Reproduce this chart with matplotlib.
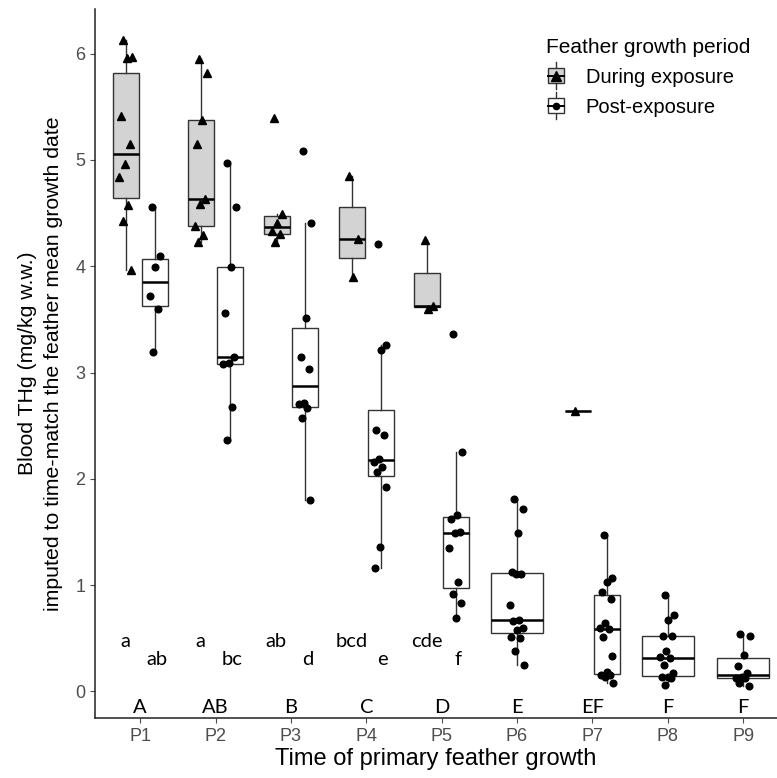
import numpy as np
import matplotlib
matplotlib.use("Agg")
import matplotlib.pyplot as plt
from matplotlib.legend_handler import HandlerBase
from matplotlib.patches import Rectangle
from matplotlib.lines import Line2D

plt.rcParams['font.family'] = ['Liberation Sans', 'DejaVu Sans']

# feathers P1..P9
feathers = ["P1", "P2", "P3", "P4", "P5", "P6", "P7", "P8", "P9"]

# blood THg (mg/kg w.w.), feather grown during exposure (None = no data)
during_vals = [
    [6.13, 5.97, 5.96, 5.41, 5.15, 4.96, 4.84, 4.58, 4.43, 3.96],
    [5.95, 5.82, 5.38, 5.15, 4.63, 4.59, 4.38, 4.29, 4.23],
    [5.39, 4.49, 4.41, 4.33, 4.30, 4.23],
    [4.85, 4.26, 3.90],
    [4.25, 3.63, 3.60],
    None,
    [2.64],
    None,
    None,
]

# feather grown post-exposure
post_vals = [
    [4.56, 4.10, 3.99, 3.72, 3.60, 3.19],
    [4.97, 4.56, 3.99, 3.56, 3.15, 3.09, 3.08, 2.68, 2.37],
    [5.08, 4.41, 3.51, 3.15, 3.03, 2.71, 2.70, 2.67, 2.57, 1.80],
    [4.21, 3.26, 3.21, 2.46, 2.41, 2.19, 2.16, 2.11, 2.06, 1.92, 1.36, 1.16],
    [3.36, 2.25, 1.66, 1.62, 1.50, 1.49, 1.35, 1.03, 0.92, 0.83, 0.69],
    [1.81, 1.72, 1.49, 1.12, 1.10, 1.10, 0.81, 0.67, 0.66, 0.60, 0.58, 0.51, 0.50, 0.38, 0.25],
    [1.47, 1.07, 1.03, 0.94, 0.87, 0.64, 0.60, 0.59, 0.51, 0.33, 0.18, 0.15, 0.15, 0.14, 0.08],
    [0.91, 0.72, 0.67, 0.52, 0.52, 0.38, 0.32, 0.31, 0.25, 0.17, 0.14, 0.14, 0.13, 0.06],
    [0.54, 0.52, 0.34, 0.24, 0.17, 0.14, 0.13, 0.13, 0.08, 0.05],
]

# significance letters
during_letters = ["a", "a", "ab", "bcd", "cde"]
post_letters = ["ab", "bc", "d", "e", "f"]
feather_letters = ["A", "AB", "B", "C", "D", "E", "EF", "F", "F"]

EDGE = "#333333"
GREY_FILL = "#D3D3D3"
TICK_COL = "#4D4D4D"
LETTER_FONT = ["Lato", "DejaVu Sans"]

fig = plt.figure(figsize=(7.77, 7.78), dpi=100)
ax = fig.add_axes([95 / 777, 60 / 778, 682 / 777, 709 / 778])


def jitter(n, width=0.09):
    # deterministic spread so the points don't stack
    k = np.arange(n)
    return ((k * 0.618034 + 0.31) % 1 - 0.5) * 2 * width


def draw_group(vals, pos, w, face, marker, msize):
    ax.boxplot([vals], positions=[pos], widths=w, patch_artist=True,
               showfliers=False, whis=1.5,
               boxprops=dict(facecolor=face, edgecolor=EDGE, linewidth=1.0),
               whiskerprops=dict(color=EDGE, linewidth=1.0),
               capprops=dict(linewidth=0),
               medianprops=dict(color="black", linewidth=1.8),
               zorder=2)
    xs = pos + jitter(len(vals), 0.09 if w < 0.5 else 0.1)
    ax.plot(xs, vals, linestyle="none", marker=marker, markersize=msize,
            color="black", zorder=3)


for i in range(len(feathers)):
    x = i + 1
    d = during_vals[i]
    p = post_vals[i]
    if d is not None:
        draw_group(d, x - 0.19, 0.345, GREY_FILL, "^", 5.4)
        draw_group(p, x + 0.19, 0.345, "white", "o", 4.8)
    else:
        draw_group(p, x, 0.69, "white", "o", 4.8)

# letters
for i, s in enumerate(during_letters):
    ax.text(i + 1 - 0.2, 0.47, s, ha="center", va="center", fontsize=14.5,
            family=LETTER_FONT)
for i, s in enumerate(post_letters):
    ax.text(i + 1 + 0.22, 0.30, s, ha="center", va="center", fontsize=14.5,
            family=LETTER_FONT)
for i, s in enumerate(feather_letters):
    ax.text(i + 1, -0.15, s, ha="center", va="center", fontsize=14.5,
            family=LETTER_FONT)

ax.set_xlim(0.4, 9.45)
ax.set_ylim(-0.25, 6.42)
ax.set_xticks(range(1, len(feathers) + 1))
ax.set_xticklabels(feathers)
ax.set_yticks(range(0, 7))
ax.tick_params(axis="both", colors=TICK_COL, labelsize=13, length=3.5, width=0.8)
for s in ["top", "right"]:
    ax.spines[s].set_visible(False)
for s in ["left", "bottom"]:
    ax.spines[s].set_color("#222222")
    ax.spines[s].set_linewidth(1.1)

ax.set_xlabel("Time of primary feather growth", fontsize=17, color="black", labelpad=2)
ax.set_ylabel("Blood THg (mg/kg w.w.)\nimputed to time-match the feather mean growth date",
              fontsize=15.3, color="black", linespacing=1.45, labelpad=9)


class BoxKey(HandlerBase):
    def __init__(self, face, marker, msize):
        super().__init__()
        self.face = face
        self.marker = marker
        self.msize = msize

    def create_artists(self, legend, orig_handle, xdescent, ydescent,
                       width, height, fontsize, trans):
        cx = -xdescent + width / 2
        y0 = -ydescent
        bw = width * 0.85
        bh = height * 0.8
        by = y0 + (height - bh) / 2
        wl = Line2D([cx, cx], [y0 - 3, y0 + height + 3], color=EDGE, lw=1.0, transform=trans)
        box = Rectangle((cx - bw / 2, by), bw, bh, facecolor=self.face,
                        edgecolor=EDGE, lw=1.0, transform=trans)
        med = Line2D([cx - bw / 2, cx + bw / 2], [y0 + height / 2] * 2,
                     color="black", lw=1.4, transform=trans)
        mk = Line2D([cx], [y0 + height / 2], marker=self.marker, markersize=self.msize,
                    color="black", linestyle="none", transform=trans)
        return [wl, box, med, mk]


h1 = Rectangle((0, 0), 1, 1)
h2 = Rectangle((0, 0), 1, 1)
leg = fig.legend([h1, h2], ["During exposure", "Post-exposure"],
                 handler_map={h1: BoxKey(GREY_FILL, "^", 7), h2: BoxKey("white", "o", 4.5)},
                 title="Feather growth period", loc="upper left",
                 bbox_to_anchor=(0.68, 0.975), frameon=False, fontsize=14.5,
                 title_fontsize=15, handlelength=0.95, handleheight=1.0,
                 handletextpad=1.0, labelspacing=0.5, alignment="left")

fig.savefig("out.png", dpi=100)
